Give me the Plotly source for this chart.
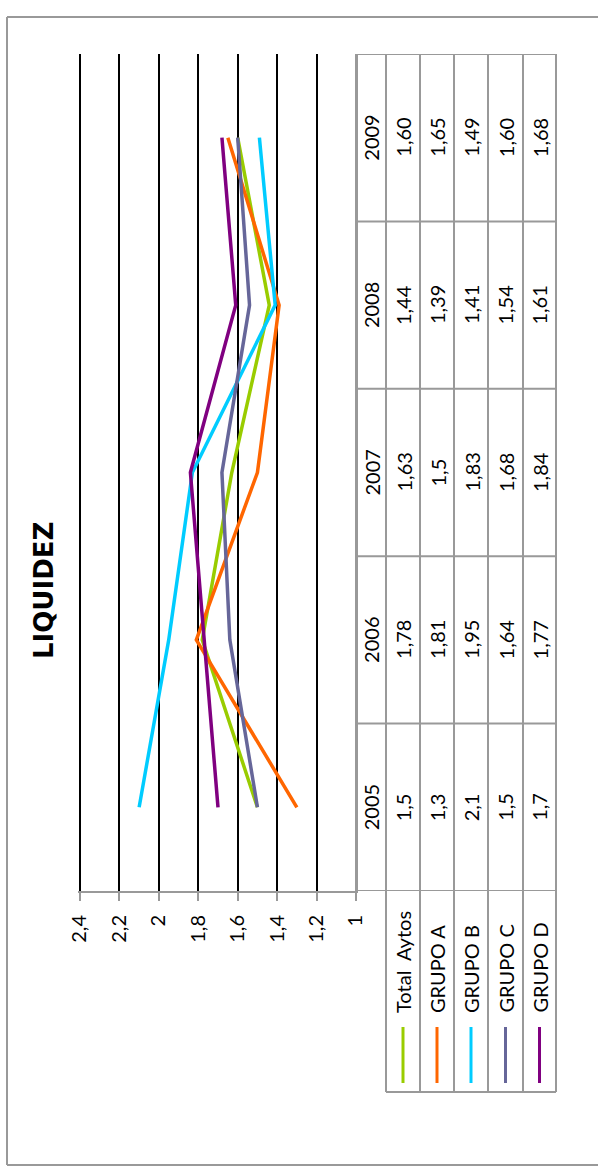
import plotly.graph_objects as go

# --- data -------------------------------------------------------------
years = ["2005", "2006", "2007", "2008", "2009"]
series_names = ["Total  Aytos", "GRUPO A", "GRUPO B", "GRUPO C", "GRUPO D"]
total_aytos = [1.5, 1.78, 1.63, 1.44, 1.60]
grupo_a = [1.3, 1.81, 1.5, 1.39, 1.65]
grupo_b = [2.1, 1.95, 1.83, 1.41, 1.49]
grupo_c = [1.5, 1.64, 1.68, 1.54, 1.60]
grupo_d = [1.7, 1.77, 1.84, 1.61, 1.68]
# table text as printed in the data table
total_txt = ["1,5", "1,78", "1,63", "1,44", "1,60"]
a_txt = ["1,3", "1,81", "1,5", "1,39", "1,65"]
b_txt = ["2,1", "1,95", "1,83", "1,41", "1,49"]
c_txt = ["1,5", "1,64", "1,68", "1,54", "1,60"]
d_txt = ["1,7", "1,77", "1,84", "1,61", "1,68"]
value_ticks = [1.0, 1.2, 1.4, 1.6, 1.8, 2.0, 2.2, 2.4]
value_tick_text = ["1", "1,2", "1,4", "1,6", "1,8", "2", "2,2", "2,4"]

series_values = [total_aytos, grupo_a, grupo_b, grupo_c, grupo_d]
series_text = [total_txt, a_txt, b_txt, c_txt, d_txt]
colors = ["#99CC00", "#FF6600", "#00CCFF", "#666699", "#800080"]

# --- page geometry (pixels) --------------------------------------------
W, H = 598, 1173
FONT = "Lato"
FS = 20
GRAY = "#999999"


def px(x):
    return x / W


def py(y):
    return 1 - y / H


# value axis runs slightly past 2.4 so its top gridline is kept
v_lo, v_hi = 1.0, 2.41
plot_right = 356
px_per_unit = (356 - 80) / (2.4 - 1.0)
plot_left = plot_right - (v_hi - v_lo) * px_per_unit
plot_top, plot_bottom = 54, 891
col_edges = [356, 386, 420, 454, 488, 523, 556]
legend_bottom = 1092

fig = go.Figure()

for name, vals, col in zip(series_names, series_values, colors):
    fig.add_trace(go.Scatter(
        x=vals, y=years, mode="lines", name=name,
        line=dict(color=col, width=3.5), showlegend=False,
        hoverinfo="skip",
    ))

shapes = []
annotations = []


def hline(x0, x1, y, color=GRAY, width=2):
    shapes.append(dict(type="line", xref="paper", yref="paper",
                       x0=px(x0), x1=px(x1), y0=py(y), y1=py(y),
                       line=dict(color=color, width=width)))


def vline(x, y0, y1, color=GRAY, width=2):
    shapes.append(dict(type="line", xref="paper", yref="paper",
                       x0=px(x), x1=px(x), y0=py(y0), y1=py(y1),
                       line=dict(color=color, width=width)))


# outer frame (its right side runs past the page edge)
hline(7, W, 17)
hline(7, W, 1165)
vline(7, 17, 1165)

# data table: separators between years follow the category bands
for k in range(len(years) + 1):
    shapes.append(dict(type="line", xref="paper", yref="y",
                       x0=px(col_edges[0]), x1=px(col_edges[-1]),
                       y0=k - 0.5, y1=k - 0.5,
                       line=dict(color=GRAY, width=2)))
# column separators
for i, xe in enumerate(col_edges):
    vline(xe, plot_top, plot_bottom if i == 0 else legend_bottom)
# legend row bottom
hline(col_edges[1], col_edges[-1], legend_bottom)

# year header column (category positions by index)
hx = (col_edges[0] + col_edges[1]) / 2
for idx, yr in enumerate(years):
    annotations.append(dict(xref="paper", yref="y", x=px(hx), y=idx,
                            text=yr, textangle=-90, showarrow=False,
                            font=dict(family=FONT, size=FS, color="black"),
                            xanchor="center", yanchor="middle"))

# value cells, legend labels and keys
for j, (name, txts, col) in enumerate(zip(series_names, series_text, colors)):
    cx = (col_edges[j + 1] + col_edges[j + 2]) / 2
    for idx, t in enumerate(txts):
        annotations.append(dict(xref="paper", yref="y", x=px(cx), y=idx,
                                text=t, textangle=-90, showarrow=False,
                                font=dict(family=FONT, size=FS, color="black"),
                                xanchor="center", yanchor="middle"))
    annotations.append(dict(xref="paper", yref="paper", x=px(cx), y=py(1015),
                            text=name, textangle=-90, showarrow=False,
                            font=dict(family=FONT, size=FS, color="black"),
                            xanchor="center", yanchor="bottom"))
    vline(cx, 1027, 1083, color=col, width=3)

# chart title
annotations.append(dict(xref="paper", yref="paper", x=px(44), y=py(591),
                        text="<b>LIQUIDEZ</b>", textangle=-90, showarrow=False,
                        font=dict(family="DejaVu Sans", size=26, color="black"),
                        xanchor="center", yanchor="middle"))

fig.update_layout(
    width=W, height=H,
    margin=dict(l=0, r=0, t=0, b=0, pad=0),
    paper_bgcolor="white", plot_bgcolor="white",
    separators=",.",
    shapes=shapes, annotations=annotations,
    xaxis=dict(
        domain=[px(plot_left), px(plot_right)],
        range=[v_hi, v_lo],
        tickvals=value_ticks, ticktext=value_tick_text,
        tickangle=-90,
        tickfont=dict(family=FONT, size=FS, color="black"),
        ticklabelstandoff=6,
        showgrid=True, gridcolor="black", gridwidth=1.5,
        showline=True, linecolor=GRAY, linewidth=2,
        ticks="outside", ticklen=8, tickcolor=GRAY, tickwidth=2,
        zeroline=False, fixedrange=True, automargin=False,
    ),
    yaxis=dict(
        domain=[py(plot_bottom), py(plot_top)],
        type="category", categoryorder="array", categoryarray=years,
        range=[-0.5, 4.5],
        showgrid=False, showticklabels=False, ticks="",
        showline=True, linecolor=GRAY, linewidth=2,
        side="right", zeroline=False, fixedrange=True, automargin=False,
    ),
)

fig.write_html("out.html")
